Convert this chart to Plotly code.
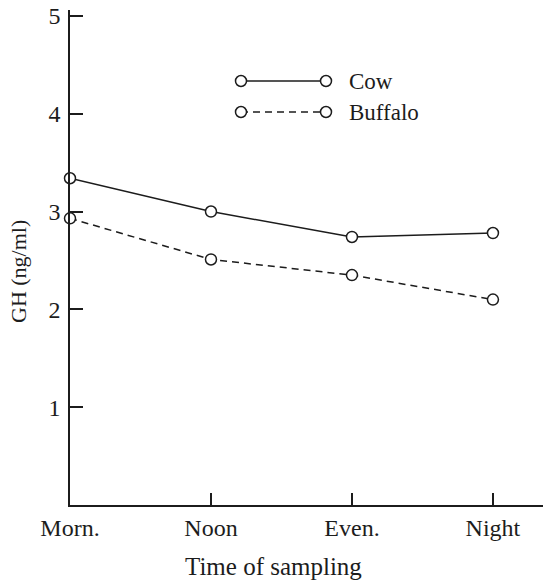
import plotly.graph_objects as go

categories = ["Morn.", "Noon", "Even.", "Night"]
cow = [3.34, 3.00, 2.74, 2.78]
buffalo = [2.93, 2.51, 2.35, 2.10]
y_ticks = [1, 2, 3, 4, 5]
series_names = ["Cow", "Buffalo"]

x_pos = list(range(len(categories)))
INK = "#1c1c1c"
FONT = "Liberation Serif, Times New Roman, serif"

W, H = 543, 580
ML, MR, MT, MB = 70, 0, 10, 75
PW, PH = W - ML - MR, H - MT - MB


def px(x):
    return (x - ML) / PW


def py(y):
    return (H - MB - y) / PH


fig = go.Figure()

marker = dict(symbol="circle", size=11, color="white", line=dict(width=1.5, color=INK))

fig.add_trace(go.Scatter(x=x_pos, y=cow, mode="lines+markers", name=series_names[0],
                         line=dict(color=INK, width=1.5), marker=marker, showlegend=False,
                         cliponaxis=False))
fig.add_trace(go.Scatter(x=x_pos, y=buffalo, mode="lines+markers", name=series_names[1],
                         line=dict(color=INK, width=1.5, dash="7px,5px"), marker=marker,
                         showlegend=False, cliponaxis=False))

# custom legend drawn on a pixel-space overlay axis
leg_x0, leg_x1 = 241, 326
leg_rows = [81, 112]
dashes = ["solid", "7px,5px"]
for name, yrow, d in zip(series_names, leg_rows, dashes):
    fig.add_trace(go.Scatter(x=[leg_x0, leg_x1], y=[yrow, yrow], mode="lines+markers",
                             xaxis="x2", yaxis="y2", line=dict(color=INK, width=1.5, dash=d),
                             marker=marker, showlegend=False, hoverinfo="skip", cliponaxis=False))
    fig.add_annotation(x=px(347), y=py(yrow), xref="paper", yref="paper", text=name,
                       showarrow=False, xanchor="left", yanchor="middle",
                       font=dict(family=FONT, size=23, color=INK))

fig.update_layout(
    width=W, height=H,
    margin=dict(l=ML, r=MR, t=MT, b=MB, autoexpand=False),
    paper_bgcolor="white", plot_bgcolor="white",
    font=dict(family=FONT, color=INK),
    xaxis=dict(range=[0, 3.355], tickvals=x_pos, ticktext=categories, automargin=False,
               showline=True, linecolor=INK, linewidth=1.5, ticks="inside", ticklen=12,
               tickwidth=1.5, tickcolor=INK, showgrid=False, zeroline=False,
               tickfont=dict(family=FONT, size=24, color=INK), ticklabelstandoff=0),
    yaxis=dict(range=[0, 5.06], tickvals=y_ticks, showline=True, linecolor=INK, linewidth=1.5,
               ticks="inside", ticklen=13, tickwidth=1.5, tickcolor=INK, showgrid=False,
               zeroline=False, tickfont=dict(family=FONT, size=24, color=INK),
               ticklabelstandoff=3, automargin=False),
    xaxis2=dict(overlaying="x", range=[ML, W - MR], visible=False),
    yaxis2=dict(overlaying="y", range=[H - MB, MT], visible=False),
)

fig.add_annotation(x=px(273), y=py(566), xref="paper", yref="paper", text="Time of sampling",
                   showarrow=False, xanchor="center", yanchor="middle",
                   font=dict(family=FONT, size=25, color=INK))
fig.add_annotation(x=px(18), y=py(272), xref="paper", yref="paper", text="GH (ng/ml)",
                   showarrow=False, textangle=-90, xanchor="center", yanchor="middle",
                   font=dict(family=FONT, size=22, color=INK))

fig.write_html("out.html", config={"displayModeBar": False},
               post_script="document.body.style.margin='0';")
